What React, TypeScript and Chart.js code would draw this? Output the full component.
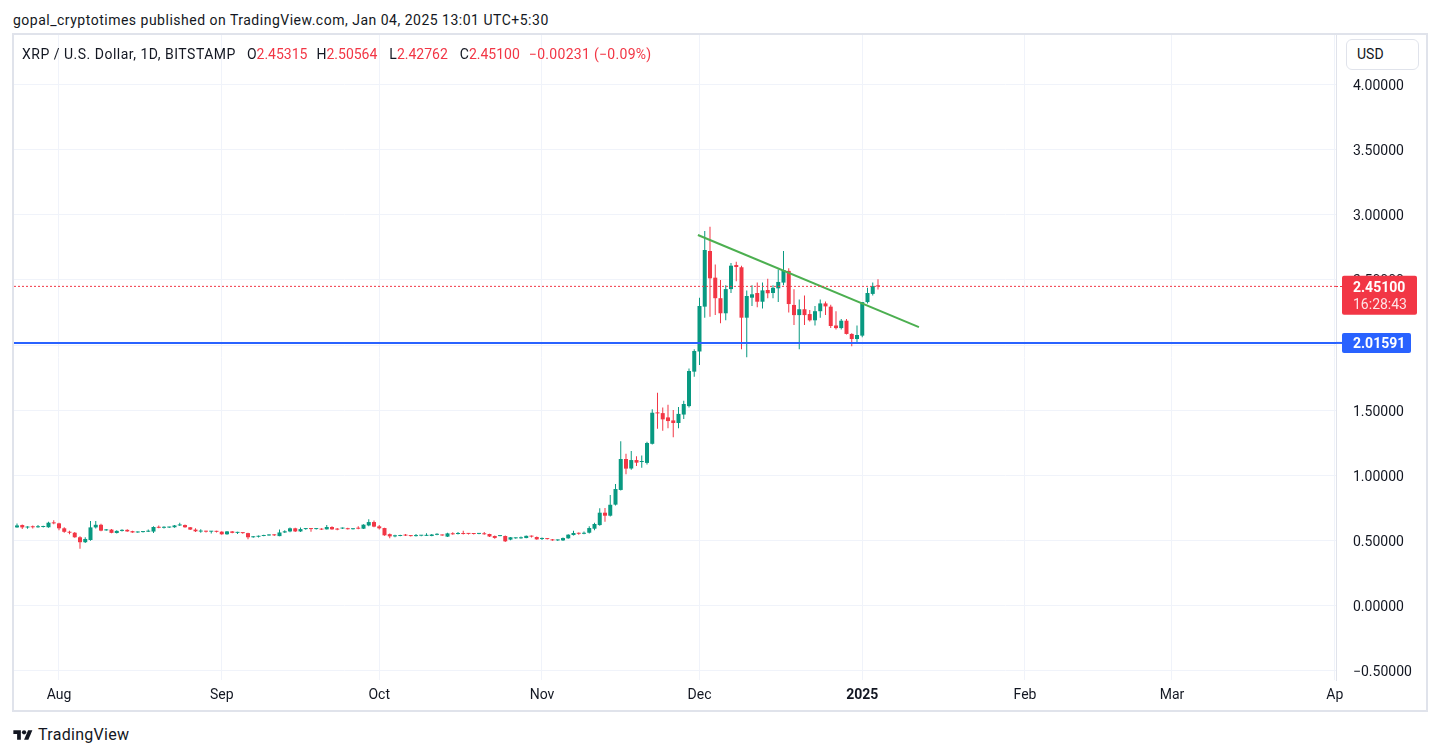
import React, { useEffect, useRef } from "react";
import { Chart, registerables } from "chart.js";

Chart.register(...registerables);

// x values are days counted from 1 Aug 2024; first candle is 24 Jul 2024
const FIRST_DAY = -8;

const OPEN = [
  0.597, 0.615, 0.596, 0.601, 0.598, 0.6, 0.598, 0.633, 0.628, 0.59,
  0.563, 0.556, 0.521, 0.483, 0.5, 0.597, 0.617, 0.574, 0.58, 0.554,
  0.57, 0.578, 0.568, 0.558, 0.561, 0.564, 0.565, 0.6, 0.594, 0.596,
  0.598, 0.612, 0.615, 0.598, 0.58, 0.565, 0.567, 0.564, 0.566, 0.564,
  0.544, 0.566, 0.555, 0.557, 0.553, 0.521, 0.525, 0.531, 0.535, 0.54,
  0.53, 0.558, 0.566, 0.59, 0.566, 0.584, 0.586, 0.584, 0.586, 0.582,
  0.6, 0.584, 0.588, 0.59, 0.583, 0.59, 0.587, 0.612, 0.638, 0.605,
  0.592, 0.545, 0.528, 0.531, 0.536, 0.535, 0.53, 0.533, 0.532, 0.531,
  0.54, 0.54, 0.526, 0.551, 0.546, 0.55, 0.549, 0.549, 0.547, 0.551,
  0.546, 0.531, 0.53, 0.531, 0.503, 0.513, 0.513, 0.515, 0.53, 0.523,
  0.508, 0.51, 0.505, 0.497, 0.497, 0.513, 0.538, 0.554, 0.548, 0.556,
  0.587, 0.615, 0.71, 0.687, 0.772, 0.885, 1.123, 1.05, 1.115, 1.1,
  1.093, 1.24, 1.48, 1.476, 1.443, 1.42, 1.4, 1.465, 1.53, 1.795,
  1.95, 2.295, 2.723, 2.518, 2.36, 2.244, 2.43, 2.615, 2.598, 2.21,
  2.364, 2.4, 2.333, 2.423, 2.4, 2.436, 2.48, 2.57, 2.308, 2.23,
  2.275, 2.238, 2.19, 2.26, 2.32, 2.295, 2.15, 2.13, 2.187, 2.085,
  2.046, 2.072, 2.33, 2.393, 2.45315,
];

const HIGH = [
  0.626, 0.62, 0.606, 0.612, 0.615, 0.61, 0.64, 0.652, 0.632, 0.598,
  0.572, 0.562, 0.528, 0.521, 0.646, 0.646, 0.625, 0.585, 0.585, 0.575,
  0.583, 0.582, 0.572, 0.565, 0.568, 0.58, 0.605, 0.612, 0.605, 0.602,
  0.615, 0.633, 0.62, 0.6, 0.59, 0.582, 0.572, 0.57, 0.572, 0.568,
  0.57, 0.57, 0.563, 0.56, 0.556, 0.53, 0.534, 0.54, 0.545, 0.544,
  0.58, 0.575, 0.597, 0.594, 0.597, 0.592, 0.59, 0.59, 0.59, 0.615,
  0.605, 0.592, 0.597, 0.594, 0.59, 0.605, 0.622, 0.66, 0.65, 0.615,
  0.595, 0.55, 0.54, 0.54, 0.546, 0.538, 0.546, 0.537, 0.551, 0.547,
  0.551, 0.543, 0.555, 0.56, 0.561, 0.572, 0.553, 0.552, 0.553, 0.562,
  0.549, 0.534, 0.535, 0.534, 0.524, 0.52, 0.526, 0.535, 0.535, 0.527,
  0.52, 0.515, 0.508, 0.503, 0.52, 0.545, 0.572, 0.558, 0.565, 0.605,
  0.633, 0.744, 0.746, 0.846, 0.93, 1.26, 1.163, 1.185, 1.145, 1.15,
  1.256, 1.505, 1.633, 1.52, 1.54, 1.5, 1.523, 1.572, 1.82, 1.967,
  2.364, 2.877, 2.91, 2.62, 2.5, 2.46, 2.63, 2.64, 2.61, 2.42,
  2.46, 2.48, 2.48, 2.51, 2.46, 2.58, 2.723, 2.59, 2.428, 2.35,
  2.38, 2.27, 2.3, 2.35, 2.335, 2.31, 2.26, 2.2, 2.2, 2.09,
  2.15, 2.33, 2.44, 2.48, 2.50564,
];

const LOW = [
  0.595, 0.585, 0.587, 0.588, 0.595, 0.597, 0.595, 0.622, 0.575, 0.555,
  0.545, 0.518, 0.433, 0.476, 0.495, 0.588, 0.568, 0.571, 0.552, 0.55,
  0.565, 0.563, 0.555, 0.555, 0.558, 0.562, 0.553, 0.59, 0.588, 0.592,
  0.595, 0.608, 0.595, 0.577, 0.562, 0.556, 0.557, 0.55, 0.558, 0.54,
  0.54, 0.552, 0.546, 0.548, 0.505, 0.517, 0.52, 0.528, 0.532, 0.53,
  0.528, 0.553, 0.56, 0.562, 0.562, 0.578, 0.564, 0.58, 0.576, 0.58,
  0.578, 0.575, 0.584, 0.58, 0.58, 0.583, 0.585, 0.605, 0.598, 0.58,
  0.533, 0.513, 0.522, 0.528, 0.53, 0.527, 0.527, 0.529, 0.53, 0.528,
  0.536, 0.532, 0.523, 0.54, 0.543, 0.542, 0.543, 0.543, 0.545, 0.541,
  0.524, 0.51, 0.528, 0.485, 0.498, 0.51, 0.51, 0.513, 0.52, 0.502,
  0.5, 0.503, 0.495, 0.492, 0.492, 0.51, 0.535, 0.54, 0.545, 0.55,
  0.575, 0.61, 0.64, 0.68, 0.765, 0.88, 1.005, 1.04, 1.07, 1.055,
  1.08, 1.235, 1.356, 1.34, 1.36, 1.29, 1.36, 1.43, 1.52, 1.756,
  1.846, 2.21, 2.218, 2.23, 2.167, 2.19, 2.4, 2.49, 1.967, 1.905,
  2.3, 2.29, 2.28, 2.36, 2.36, 2.33, 2.46, 2.25, 2.154, 1.967,
  2.154, 2.18, 2.15, 2.21, 2.23, 2.13, 2.12, 2.12, 2.08, 1.99,
  2.02, 2.06, 2.32, 2.38, 2.42762,
];

const CLOSE = [
  0.612, 0.597, 0.6, 0.598, 0.6, 0.602, 0.633, 0.628, 0.59, 0.563,
  0.556, 0.521, 0.483, 0.508, 0.597, 0.617, 0.572, 0.578, 0.555, 0.57,
  0.578, 0.566, 0.558, 0.561, 0.564, 0.568, 0.6, 0.594, 0.596, 0.598,
  0.612, 0.615, 0.598, 0.58, 0.567, 0.567, 0.564, 0.566, 0.563, 0.544,
  0.566, 0.555, 0.557, 0.553, 0.521, 0.525, 0.531, 0.535, 0.54, 0.536,
  0.558, 0.567, 0.59, 0.566, 0.584, 0.586, 0.584, 0.586, 0.58, 0.6,
  0.582, 0.58, 0.59, 0.583, 0.586, 0.587, 0.618, 0.638, 0.603, 0.59,
  0.536, 0.528, 0.536, 0.536, 0.534, 0.53, 0.535, 0.534, 0.536, 0.542,
  0.542, 0.535, 0.551, 0.544, 0.549, 0.546, 0.547, 0.546, 0.549, 0.544,
  0.527, 0.516, 0.532, 0.49, 0.521, 0.515, 0.515, 0.532, 0.526, 0.505,
  0.51, 0.507, 0.497, 0.5, 0.515, 0.541, 0.554, 0.548, 0.552, 0.592,
  0.623, 0.71, 0.687, 0.771, 0.892, 1.123, 1.049, 1.115, 1.095, 1.105,
  1.246, 1.479, 1.474, 1.428, 1.415, 1.4, 1.47, 1.546, 1.8, 1.954,
  2.3, 2.731, 2.513, 2.36, 2.244, 2.43, 2.61, 2.6, 2.21, 2.377,
  2.39, 2.333, 2.42, 2.398, 2.44, 2.485, 2.577, 2.315, 2.23, 2.275,
  2.23, 2.19, 2.26, 2.32, 2.297, 2.146, 2.13, 2.187, 2.085, 2.046,
  2.077, 2.33, 2.4, 2.453, 2.451,
];

const MONTH_TICKS = [0, 31, 61, 92, 122, 153, 184, 212, 243];
const MONTH_LABELS = ["Aug", "Sep", "Oct", "Nov", "Dec", "2025", "Feb", "Mar", "Ap"];
const PRICE_TICKS = [-0.5, 0, 0.5, 1, 1.5, 2, 2.5, 3, 3.5, 4];

const TREND_X = [121.7, 163.8];
const TREND_Y = [2.846, 2.138];

const SUPPORT_PRICE = 2.01591;
const LAST_PRICE = 2.451;
const COUNTDOWN = "16:28:43";

const X_MIN = -8.571;
const X_MAX = 243.24;
const Y_MIN = -0.5769;
const Y_MAX = 4.3846;

const GREEN = "#089981";
const RED = "#F23645";
const BLUE = "#2962FF";
const TEXT = "#131722";
const GRID = "#f0f3fa";
const FONT = "Roboto, 'Open Sans', sans-serif";

function minus(s: string) {
  return s.replace("-", "\u2212");
}

function roundRect(ctx: CanvasRenderingContext2D, x: number, y: number, w: number, h: number, r: number) {
  ctx.beginPath();
  ctx.moveTo(x + r, y);
  ctx.lineTo(x + w - r, y);
  ctx.quadraticCurveTo(x + w, y, x + w, y + r);
  ctx.lineTo(x + w, y + h - r);
  ctx.quadraticCurveTo(x + w, y + h, x + w - r, y + h);
  ctx.lineTo(x + r, y + h);
  ctx.quadraticCurveTo(x, y + h, x, y + h - r);
  ctx.lineTo(x, y + r);
  ctx.quadraticCurveTo(x, y, x + r, y);
  ctx.closePath();
}

const priceTags = {
  id: "priceTags",
  afterDraw(chart: any) {
    const { ctx, chartArea, scales } = chart;
    const ys = scales.y;
    const boxX = chartArea.right + 6;
    const textX = chartArea.right + 17;
    ctx.save();
    // last price tag
    const yl = ys.getPixelForValue(LAST_PRICE);
    ctx.strokeStyle = RED;
    ctx.lineWidth = 1;
    ctx.setLineDash([2, 2]);
    ctx.beginPath();
    ctx.moveTo(chartArea.right, Math.round(yl) + 0.5);
    ctx.lineTo(boxX, Math.round(yl) + 0.5);
    ctx.stroke();
    ctx.setLineDash([]);
    ctx.fillStyle = RED;
    roundRect(ctx, boxX, yl - 10.5, 75, 39, 2);
    ctx.fill();
    ctx.textAlign = "left";
    ctx.textBaseline = "middle";
    ctx.fillStyle = "#ffffff";
    ctx.font = `bold 14px ${FONT}`;
    ctx.fillText(LAST_PRICE.toFixed(5), textX, yl + 2);
    ctx.fillStyle = "#fde3e6";
    ctx.font = `14px ${FONT}`;
    ctx.fillText(COUNTDOWN, textX, yl + 19);
    // support tag
    const ysup = ys.getPixelForValue(SUPPORT_PRICE);
    ctx.fillStyle = BLUE;
    ctx.fillRect(chartArea.right, ysup - 1, boxX - chartArea.right, 2);
    roundRect(ctx, boxX, ysup - 10, 69, 20, 2);
    ctx.fill();
    ctx.fillStyle = "#ffffff";
    ctx.font = `bold 14px ${FONT}`;
    ctx.fillText(SUPPORT_PRICE.toFixed(5), textX, ysup + 2);
    ctx.restore();
  },
};

function CandleChart() {
  const ref = useRef<HTMLCanvasElement | null>(null);

  useEffect(() => {
    if (!ref.current) return;
    const idx = OPEN.map((_, i) => i);
    const colors = idx.map((i) => (CLOSE[i] >= OPEN[i] ? GREEN : RED));

    const chart = new Chart(ref.current, {
      type: "bar",
      data: {
        datasets: [
          {
            type: "line",
            label: "last",
            data: [
              { x: X_MIN, y: LAST_PRICE },
              { x: X_MAX, y: LAST_PRICE },
            ],
            borderColor: RED,
            borderWidth: 1,
            borderDash: [2, 2],
            pointRadius: 0,
            order: 0,
          } as any,
          {
            type: "line",
            label: "support",
            data: [
              { x: X_MIN, y: SUPPORT_PRICE },
              { x: X_MAX, y: SUPPORT_PRICE },
            ],
            borderColor: BLUE,
            borderWidth: 2,
            pointRadius: 0,
            order: 1,
          } as any,
          {
            type: "line",
            label: "trend",
            data: TREND_X.map((x, i) => ({ x, y: TREND_Y[i] })),
            borderColor: "#4CAF50",
            borderWidth: 2,
            pointRadius: 0,
            order: 2,
          } as any,
          {
            type: "bar",
            label: "body",
            data: idx.map((i) => ({ x: FIRST_DAY + i, y: [OPEN[i], CLOSE[i]] })),
            backgroundColor: colors,
            borderWidth: 0,
            barThickness: 4,
            minBarLength: 1,
            grouped: false,
            inflateAmount: 0,
            order: 3,
          } as any,
          {
            type: "bar",
            label: "wick",
            data: idx.map((i) => ({ x: FIRST_DAY + i, y: [LOW[i], HIGH[i]] })),
            backgroundColor: colors,
            borderWidth: 0,
            barThickness: 1,
            grouped: false,
            inflateAmount: 0,
            order: 4,
          } as any,
        ],
      },
      options: {
        responsive: false,
        animation: false,
        devicePixelRatio: 1,
        events: [],
        layout: { padding: 0 },
        plugins: {
          legend: { display: false },
          tooltip: { enabled: false },
        },
        scales: {
          x: {
            type: "linear",
            min: X_MIN,
            max: X_MAX,
            offset: false,
            border: { display: false },
            grid: { color: GRID, lineWidth: 1, drawTicks: false, offset: false },
            afterBuildTicks: (scale: any) => {
              scale.ticks = MONTH_TICKS.map((v) => ({ value: v }));
            },
            afterFit: (scale: any) => {
              scale.height = 29;
              scale.paddingLeft = 0;
              scale.paddingRight = 0;
            },
            ticks: {
              autoSkip: false,
              maxRotation: 0,
              minRotation: 0,
              padding: 7,
              color: TEXT,
              font: (ctx: any) => ({
                family: FONT,
                size: 14,
                weight: ctx.index === 5 ? "bold" : "normal",
              }),
              callback: (_v: any, i: number) => MONTH_LABELS[i],
            },
          },
          y: {
            type: "linear",
            position: "right",
            min: Y_MIN,
            max: Y_MAX,
            beginAtZero: false,
            border: { display: true, color: "#e0e3eb" },
            grid: { color: GRID, lineWidth: 1, drawTicks: false },
            afterBuildTicks: (scale: any) => {
              scale.ticks = PRICE_TICKS.map((v) => ({ value: v }));
            },
            afterFit: (scale: any) => {
              scale.width = 89;
              scale.paddingTop = 0;
              scale.paddingBottom = 0;
            },
            ticks: {
              padding: 17,
              labelOffset: 2,
              color: TEXT,
              font: { family: FONT, size: 14 },
              callback: (v: any) => minus(Number(v).toFixed(5)),
            },
          },
        },
      } as any,
      plugins: [priceTags],
    });
    return () => chart.destroy();
  }, []);

  return <canvas ref={ref} width={1411} height={674} style={{ display: "block", width: 1411, height: 674 }} />;
}

function TvLogo() {
  return (
    <svg width="20" height="15" viewBox="0 0 36 28" style={{ display: "block" }}>
      <path d="M14 22H7V11H0V4h14v18z" fill={TEXT} />
      <circle cx="20" cy="8" r="4" fill={TEXT} />
      <path d="M28 22h-8l7.5-18h8L28 22z" fill={TEXT} />
    </svg>
  );
}

const HEADER_TEXT = "gopal_cryptotimes published on TradingView.com, Jan 04, 2025 13:01 UTC+5:30";
const LEGEND_TITLE = "XRP / U.S. Dollar, 1D, BITSTAMP";
const LEGEND_OHLC = [
  ["O", "2.45315"],
  ["H", "2.50564"],
  ["L", "2.42762"],
  ["C", "2.45100"],
];
const LEGEND_GAPS = [11, 9, 12, 12];
const LEGEND_CHANGE = "\u22120.00231 (\u22120.09%)";

export default function App() {
  return (
    <div
      style={{
        position: "absolute",
        left: 0,
        top: 0,
        width: 1439,
        height: 755,
        background: "#ffffff",
        overflow: "hidden",
        fontFamily: FONT,
        color: TEXT,
      }}
    >
      <div
        style={{
          position: "absolute",
          left: 13,
          top: 11,
          fontSize: 14,
          lineHeight: "18px",
          letterSpacing: "0.5px",
          whiteSpace: "nowrap",
        }}
      >
        {HEADER_TEXT}
      </div>
      <div
        style={{
          position: "absolute",
          left: 12,
          top: 33,
          width: 1416,
          height: 679,
          border: "2px solid #e0e3eb",
          boxSizing: "border-box",
        }}
      />
      <div style={{ position: "absolute", left: 14, top: 35, width: 1411, height: 674 }}>
        <CandleChart />
      </div>
      <div
        style={{
          position: "absolute",
          left: 22,
          top: 45,
          fontSize: 14,
          lineHeight: "18px",
          whiteSpace: "nowrap",
        }}
      >
        <span style={{ letterSpacing: "0.5px" }}>{LEGEND_TITLE}</span>
        {LEGEND_OHLC.map(([k, v], i) => (
          <span key={k} style={{ marginLeft: LEGEND_GAPS[i] }}>
            {k}
            <span style={{ color: RED }}>{v}</span>
          </span>
        ))}
        <span style={{ marginLeft: 9, color: RED, letterSpacing: "0.3px" }}>{LEGEND_CHANGE}</span>
      </div>
      <div
        style={{
          position: "absolute",
          left: 1346,
          top: 39,
          width: 73,
          height: 31,
          border: "1px solid #e0e3eb",
          borderRadius: 6,
          boxSizing: "border-box",
          fontSize: 14,
          lineHeight: "29px",
          paddingLeft: 10,
          background: "#fff",
        }}
      >
        USD
      </div>
      <div style={{ position: "absolute", left: 13, top: 726, display: "flex", alignItems: "center", gap: 5 }}>
        <TvLogo />
        <span style={{ fontSize: 16, lineHeight: "18px", letterSpacing: "0.3px" }}>TradingView</span>
      </div>
    </div>
  );
}
